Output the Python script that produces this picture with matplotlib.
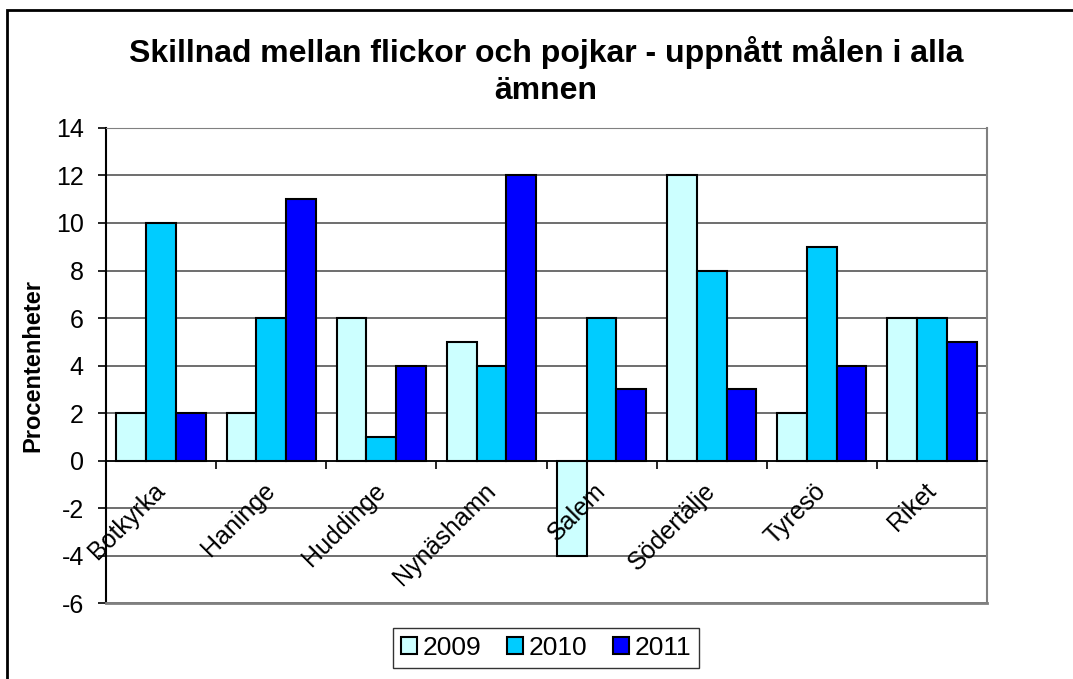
import numpy as np
import matplotlib.pyplot as plt
from matplotlib.patches import Rectangle
from matplotlib.transforms import ScaledTranslation

plt.rcParams['font.family'] = ['Liberation Sans', 'DejaVu Sans']
plt.rcParams['axes.unicode_minus'] = False

kommuner = ['Botkyrka', 'Haninge', 'Huddinge', 'Nynäshamn', 'Salem',
            'Södertälje', 'Tyresö', 'Riket']
years = ['2009', '2010', '2011']
v2009 = [2, 2, 6, 5, -4, 12, 2, 6]
v2010 = [10, 6, 1, 4, 6, 8, 9, 6]
v2011 = [2, 11, 4, 12, 3, 3, 4, 5]
colors = ['#CCFFFF', '#00CCFF', '#0000FF']

fig = plt.figure(figsize=(10.73, 6.79), dpi=100)
ax = fig.add_axes([0.0988, 0.1119, 0.8211, 0.6996])

x = np.arange(len(kommuner))
w = 0.27
for k, (vals, c, lab) in enumerate(zip([v2009, v2010, v2011], colors, years)):
    ax.bar(x + (k - 1) * w, vals, w, color=c, edgecolor='black', linewidth=1.5,
           label=lab, zorder=3)

ax.set_xlim(-0.5, len(kommuner) - 0.5)
ax.set_ylim(-6, 14)
ax.set_yticks(range(-6, 15, 2))
ax.grid(axis='y', color='#555555', linewidth=1.2, zorder=0)
ax.tick_params(axis='y', labelsize=18, length=6, width=1.2, direction='out', pad=10)

# x axis crosses at zero
ax.spines['bottom'].set_position(('data', 0))
ax.spines['bottom'].set_linewidth(1.2)
ax.spines['left'].set_linewidth(1.5)
ax.spines['top'].set_color('#808080')
ax.spines['right'].set_color('#808080')
ax.spines['right'].set_linewidth(1.5)
ax.set_xticks(np.arange(len(kommuner) + 1) - 0.5)
ax.set_xticklabels([])
ax.tick_params(axis='x', length=6, width=1.2, direction='out')
ax.axhline(-6, color='#808080', linewidth=2, zorder=4, clip_on=False)

off = ScaledTranslation(-6 / 72, -13 / 72, fig.dpi_scale_trans)
for i, name in enumerate(kommuner):
    ax.text(i, 0, name, rotation=45, ha='right', va='top', rotation_mode='anchor',
            fontsize=18, transform=ax.transData + off)

ax.set_ylabel('Procentenheter', fontsize=17, fontweight='bold', labelpad=8)

fig.text(0.509, 0.896, 'Skillnad mellan flickor och pojkar - uppnått målen i alla\nämnen',
         ha='center', va='center', fontsize=23, fontweight='bold', linespacing=1.3)

leg = fig.legend(loc='center', bbox_to_anchor=(0.509, 0.046), ncol=3, fontsize=19,
                 frameon=True, fancybox=False, edgecolor='black',
                 handlelength=0.6, handleheight=0.6, handletextpad=0.2,
                 columnspacing=1.0, borderpad=0.3)
leg.get_frame().set_linewidth(1.0)

fig.patches.append(Rectangle((7 / 1073, -0.1), 1.2, 1.1 - 10 / 679,
                             transform=fig.transFigure, fill=False,
                             edgecolor='black', linewidth=2))

fig.savefig('out.png', dpi=100)
